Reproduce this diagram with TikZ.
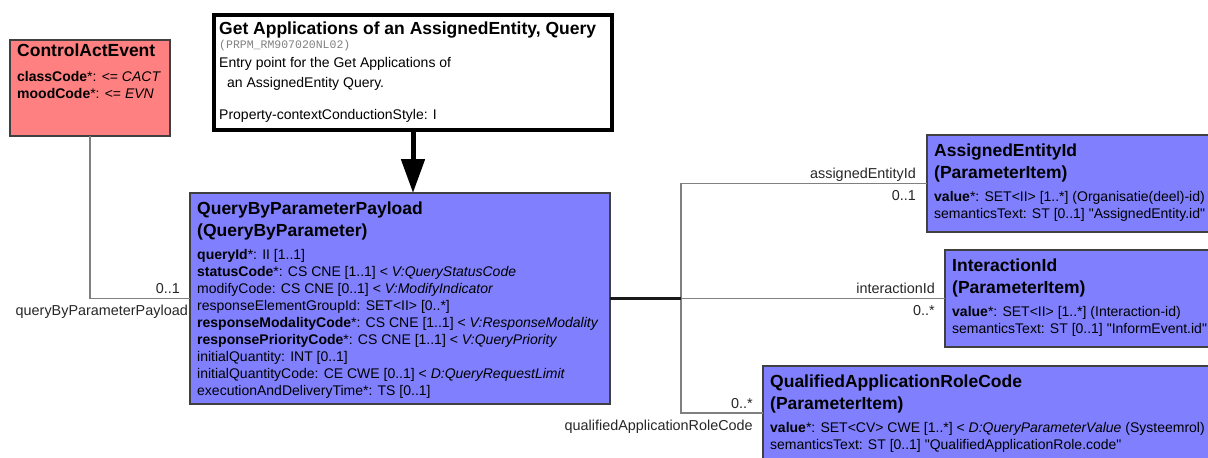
\documentclass[tikz,border=0pt]{standalone}
\usepackage{fontspec}
\setmainfont{Liberation Sans}[Ligatures=TeXOff]
\newfontfamily\codefont{Liberation Mono}
\usetikzlibrary{arrows.meta}
\definecolor{salmonbox}{RGB}{255,128,128}
\definecolor{bluebox}{RGB}{128,128,255}
\definecolor{linegray}{RGB}{128,128,128}
\begin{document}
\begin{tikzpicture}[x=1pt,y=-1pt,
  box/.style={draw=black!75, line width=1.5pt, anchor=north west, inner sep=0pt, outer sep=0pt},
  ttl/.style={anchor=base west, inner sep=0pt, font=\fontsize{17.5}{21}\selectfont\bfseries},
  att/.style={anchor=base west, inner sep=0pt, font=\fontsize{14}{17}\selectfont},
  rlbl/.style={anchor=base east, inner sep=0pt, font=\fontsize{14.4}{17}\selectfont, text=black!85},
  conn/.style={draw=linegray, line width=1.8pt},
]
\useasboundingbox (0,0) rectangle (1208,458);
\clip (0,0) rectangle (1208,458);

% boxes
\node[box, fill=salmonbox, minimum width=160pt, minimum height=96pt] (cae) at (10,40) {};
\node[box, draw=black, line width=3.3pt, fill=white, minimum width=398pt, minimum height=115pt] (get) at (214,15) {};
\node[box, fill=bluebox, minimum width=420pt, minimum height=211pt] (qbp) at (190,193) {};
\node[box, fill=bluebox, minimum width=400pt, minimum height=97pt] (aei) at (927,135) {};
\node[box, fill=bluebox, minimum width=400pt, minimum height=97pt] (iid) at (945,250) {};
\node[box, fill=bluebox, minimum width=520pt, minimum height=94pt] (qarc) at (763,366) {};

% ControlActEvent text
\node[ttl] (cae-t) at (17,56) {ControlActEvent};
\node[att] (cae-a1) at (17,81) {\textbf{classCode}*: <= \textit{CACT}};
\node[att] (cae-a2) at (17,98) {\textbf{moodCode}*: <= \textit{EVN}};

% Get Applications text
\node[ttl] (get-t) at (219,34) {Get Applications of an AssignedEntity, Query};
\node[anchor=base west, inner sep=0pt, font=\codefont\fontsize{11.5}{13}\selectfont, text=black!50] (get-c) at (219,48) {(PRPM\_RM907020NL02)};
\node[att] (get-d1) at (219,67) {Entry point for the Get Applications of};
\node[att] (get-d2) at (227,87) {an AssignedEntity Query.};
\node[att] (get-d3) at (219,119) {Property-contextConductionStyle: I};

% QueryByParameterPayload text
\node[ttl] (qbp-t1) at (197,214) {QueryByParameterPayload};
\node[ttl] (qbp-t2) at (197,236) {(QueryByParameter)};
\node[att] (qbp-a1) at (197,259) {\textbf{queryId}*: II [1..1]};
\node[att] (qbp-a2) at (197,276) {\textbf{statusCode}*: CS CNE [1..1] < \textit{V:QueryStatusCode}};
\node[att] (qbp-a3) at (197,293) {modifyCode: CS CNE [0..1] < \textit{V:ModifyIndicator}};
\node[att] (qbp-a4) at (197,310) {responseElementGroupId: SET<II> [0..*]};
\node[att] (qbp-a5) at (197,327) {\textbf{responseModalityCode}*: CS CNE [1..1] < \textit{V:ResponseModality}};
\node[att] (qbp-a6) at (197,344) {\textbf{responsePriorityCode}*: CS CNE [1..1] < \textit{V:QueryPriority}};
\node[att] (qbp-a7) at (197,361) {initialQuantity: INT [0..1]};
\node[att] (qbp-a8) at (197,378) {initialQuantityCode: CE CWE [0..1] < \textit{D:QueryRequestLimit}};
\node[att] (qbp-a9) at (197,395) {executionAndDeliveryTime*: TS [0..1]};

% AssignedEntityId text
\node[ttl] (aei-t1) at (934,156) {AssignedEntityId};
\node[ttl] (aei-t2) at (934,178) {(ParameterItem)};
\node[att] (aei-a1) at (934,201) {\textbf{value}*: SET<II> [1..*] (Organisatie(deel)-id)};
\node[att] (aei-a2) at (934,218) {semanticsText: ST [0..1] "AssignedEntity.id"};

% InteractionId text
\node[ttl] (iid-t1) at (952,271) {InteractionId};
\node[ttl] (iid-t2) at (952,293) {(ParameterItem)};
\node[att] (iid-a1) at (952,316) {\textbf{value}*: SET<II> [1..*] (Interaction-id)};
\node[att] (iid-a2) at (952,333) {semanticsText: ST [0..1] "InformEvent.id"};

% QualifiedApplicationRoleCode text
\node[ttl] (qarc-t1) at (770,387) {QualifiedApplicationRoleCode};
\node[ttl] (qarc-t2) at (770,409) {(ParameterItem)};
\node[att] (qarc-a1) at (770,432) {\textbf{value}*: SET<CV> CWE [1..*] < \textit{D:QueryParameterValue} (Systeemrol)};
\node[att] (qarc-a2) at (770,449) {semanticsText: ST [0..1] "QualifiedApplicationRole.code"};

% connectors
\coordinate (junc) at (681,298.5);
\draw[conn] (cae.south) |- (qbp.west);
\draw[conn] (junc) |- (aei.west);
\draw[conn] (junc) |- (qarc.west);
\draw[conn] (junc) -- (iid.west);
\draw[black!90, line width=2.6pt] (qbp.east) -- (junc);
\draw[black, line width=5pt, -{Triangle[width=23pt,length=34pt]}] (get.south) -- (get.south |- qbp.north);

% connector labels
\node[rlbl] (l-cae-m) at (180,293) {0..1};
\node[rlbl] (l-cae-n) at (188,315) {queryByParameterPayload};
\node[rlbl] (l-aei-n) at (916,178) {assignedEntityId};
\node[rlbl] (l-aei-m) at (916,200) {0..1};
\node[rlbl] (l-iid-n) at (935,293) {interactionId};
\node[rlbl] (l-iid-m) at (935,315) {0..*};
\node[rlbl] (l-qarc-m) at (753,408) {0..*};
\node[rlbl] (l-qarc-n) at (753,430) {qualifiedApplicationRoleCode};
\end{tikzpicture}
\end{document}
